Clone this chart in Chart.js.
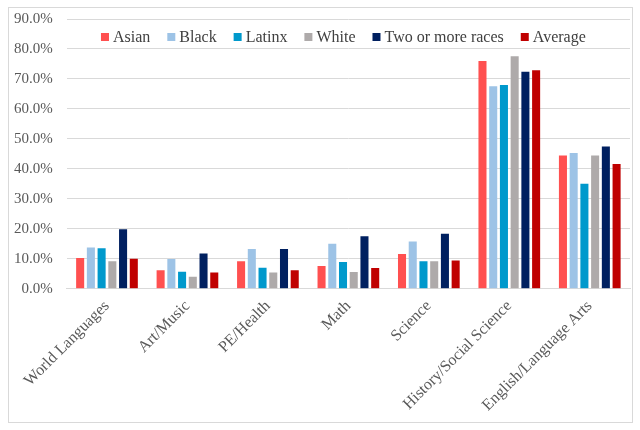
<!DOCTYPE html>
<html>
<head>
<meta charset="utf-8">
<script src="https://cdn.jsdelivr.net/npm/chart.js@4"></script>
<style>
	html, body { margin: 0; padding: 0; background: #fff; overflow: hidden; }
	#graphicSubjects { position: absolute; left: 0; top: -4px; }
	#frame {
		position: absolute; left: 8px; top: 7px;
		width: 623px; height: 414px;
		border: 1px solid #d9d9d9;
		pointer-events: none;
	}
</style>
</head>
<body>
<canvas id="graphicSubjects" width="640" height="430"></canvas>
<div id="frame"></div>
<script>
var subjects = ['World Languages', 'Art/Music', 'PE/Health', 'Math', 'Science', 'History/Social Science', 'English/Language Arts'];
var asian   = [10.3, 6.2, 9.2, 7.6, 11.6, 76.0, 44.5];
var black   = [13.8, 9.9, 13.3, 15.0, 15.8, 67.6, 45.3];
var latinx  = [13.5, 5.7, 7.0, 8.9, 9.2, 68.0, 35.0];
var white   = [9.2, 4.0, 5.4, 5.6, 9.2, 77.6, 44.5];
var twoMore = [19.9, 11.8, 13.3, 17.5, 18.4, 72.4, 47.5];
var average = [10.0, 5.4, 6.2, 6.9, 9.4, 72.9, 41.6];
var yTicks  = [0, 10, 20, 30, 40, 50, 60, 70, 80, 90];

var font = 'Liberation Serif, Times New Roman, serif';

// horizontal legend drawn inside the plot area, like the Excel original
var innerLegend = {
	id: 'innerLegend',
	afterDraw: function(chart) {
		var c = chart.ctx;
		var area = chart.chartArea;
		var box = 8, gapText = 4, gapItem = 17;
		c.save();
		c.font = '16px ' + font;
		c.textBaseline = 'middle';
		var items = chart.data.datasets.map(function(ds) {
			return { label: ds.label, color: ds.backgroundColor, w: box + gapText + c.measureText(ds.label).width };
		});
		var total = items.reduce(function(s, it) { return s + it.w; }, 0) + gapItem * (items.length - 1);
		var x = (area.left + area.right) / 2 - total / 2 - 5;
		var y = area.top + 18;
		items.forEach(function(it) {
			c.fillStyle = it.color;
			c.fillRect(x, y - box / 2, box, box);
			c.fillStyle = '#404040';
			c.fillText(it.label, x + box + gapText, y + 1);
			x += it.w + gapItem;
		});
		c.restore();
	}
};

var ctx = document.getElementById('graphicSubjects').getContext('2d');

new Chart(ctx, {
	type: 'bar',
	data: {
		labels: subjects,
		datasets: [
			{ label: 'Asian', backgroundColor: '#ff5050', data: asian },
			{ label: 'Black', backgroundColor: '#9dc3e6', data: black },
			{ label: 'Latinx', backgroundColor: '#0099cc', data: latinx },
			{ label: 'White', backgroundColor: '#aeaaaa', data: white },
			{ label: 'Two or more races', backgroundColor: '#002060', data: twoMore },
			{ label: 'Average', backgroundColor: '#c00000', data: average }
		]
	},
	plugins: [innerLegend],
	options: {
		responsive: false,
		animation: false,
		layout: { padding: { left: 0, right: 10, top: 10, bottom: 3 } },
		datasets: {
			bar: { categoryPercentage: 0.8, barPercentage: 0.75 }
		},
		plugins: {
			tooltip: { enabled: false },
			legend: { display: false }
		},
		scales: {
			x: {
				grid: { display: false, drawTicks: false },
				border: { color: '#d9d9d9' },
				ticks: {
					color: '#595959',
					font: { family: font, size: 16 },
					maxRotation: 45,
					minRotation: 45,
					padding: 8
				}
			},
			y: {
				min: 0,
				max: 90,
				afterBuildTicks: function(axis) {
					axis.ticks = yTicks.map(function(v) { return { value: v }; });
				},
				grid: { color: '#d9d9d9', drawTicks: false },
				border: { display: false },
				ticks: {
					color: '#595959',
					font: { family: font, size: 15 },
					padding: 14,
					callback: function(v) { return v.toFixed(1) + '%'; }
				}
			}
		}
	}
});
</script>
</body>
</html>
